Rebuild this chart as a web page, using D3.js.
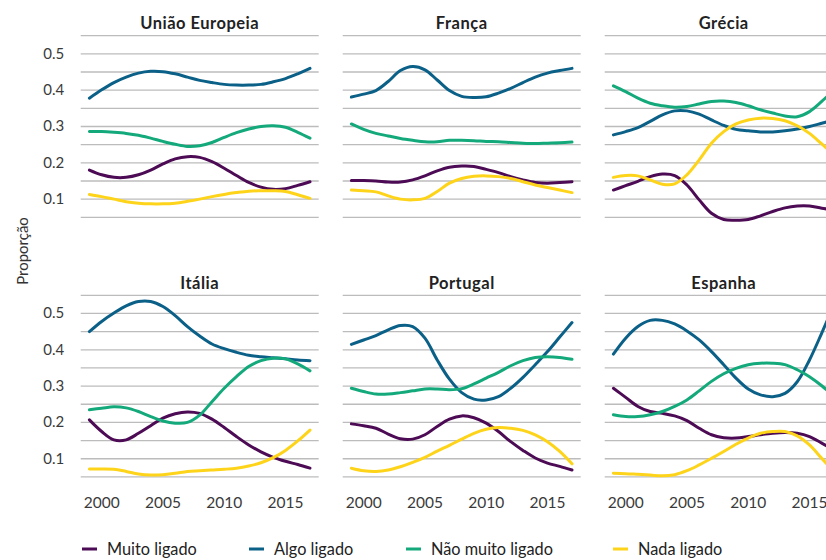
<!DOCTYPE html>
<html>
<head>
<meta charset="utf-8">
<script src="https://cdn.jsdelivr.net/npm/d3@7.9.0/dist/d3.min.js"></script>
<style>
  html, body { margin: 0; padding: 0; background: #fff; }
  svg { display: block; font-family: Lato, "Open Sans", sans-serif; }
</style>
</head>
<body>
<svg id="chart" width="826" height="560"></svg>
<script>
const years = [1999, 2000, 2001, 2002, 2003, 2004, 2005, 2006, 2007, 2008, 2009, 2010, 2011, 2012, 2013, 2014, 2015, 2016, 2017];
const countries = ['União Europeia', 'França', 'Grécia', 'Itália', 'Portugal', 'Espanha'];
const seriesNames = ['Muito ligado', 'Algo ligado', 'Não muito ligado', 'Nada ligado'];
const seriesColors = ['#4c0b54', '#0b6088', '#14a97b', '#fdd41a'];
const yTicks = [0.1, 0.2, 0.3, 0.4, 0.5];
const xTicks = [2000, 2005, 2010, 2015];

// União Europeia
const ueMuito = [.18, .167, .16, .16, .167, .18, .197, .211, .217, .215, .203, .185, .165, .146, .133, .127, .129, .138, .148];
const ueAlgo = [.378, .401, .421, .436, .447, .452, .451, .445, .436, .427, .421, .416, .414, .414, .416, .423, .432, .445, .46];
const ueNaoMuito = [.286, .286, .284, .281, .276, .268, .259, .251, .245, .247, .256, .27, .283, .293, .3, .302, .298, .284, .268];
const ueNada = [.113, .107, .1, .093, .089, .087, .087, .089, .094, .1, .107, .113, .118, .122, .123, .123, .121, .112, .102];

// França
const frMuito = [.151, .151, .15, .147, .147, .153, .164, .178, .188, .191, .19, .182, .173, .162, .153, .146, .144, .146, .148];
const frAlgo = [.381, .389, .399, .424, .454, .465, .456, .428, .399, .383, .38, .382, .392, .405, .421, .436, .447, .454, .46];
const frNaoMuito = [.307, .292, .281, .274, .267, .262, .258, .258, .262, .262, .261, .259, .258, .256, .254, .253, .254, .255, .257];
const frNada = [.125, .123, .12, .109, .1, .098, .102, .121, .144, .157, .163, .164, .162, .157, .148, .139, .132, .125, .118];

// Grécia
const grMuito = [.125, .137, .149, .162, .169, .165, .139, .098, .061, .044, .042, .044, .054, .066, .076, .081, .081, .075, .07];
const grAlgo = [.277, .286, .297, .314, .332, .343, .343, .334, .318, .303, .292, .288, .285, .285, .288, .293, .3, .309, .318];
const grNaoMuito = [.412, .396, .378, .364, .357, .353, .355, .362, .369, .37, .366, .357, .346, .337, .329, .327, .341, .369, .401];
const grNada = [.16, .165, .164, .153, .141, .142, .167, .208, .254, .286, .307, .318, .323, .322, .316, .302, .281, .252, .222];

// Itália
const itMuito = [.207, .175, .152, .152, .17, .191, .212, .224, .229, .225, .209, .186, .161, .138, .119, .104, .093, .084, .074];
const itAlgo = [.45, .478, .501, .521, .533, .533, .519, .494, .464, .438, .416, .403, .393, .385, .381, .378, .375, .372, .37];
const itNaoMuito = [.235, .239, .243, .24, .23, .216, .204, .198, .2, .22, .257, .294, .326, .354, .37, .377, .375, .361, .342];
const itNada = [.072, .072, .071, .065, .058, .055, .056, .06, .065, .067, .069, .071, .074, .08, .089, .103, .123, .149, .179];

// Portugal
const ptMuito = [.196, .191, .184, .168, .155, .154, .166, .189, .209, .218, .213, .198, .175, .147, .123, .102, .088, .079, .069];
const ptAlgo = [.415, .427, .439, .455, .467, .464, .432, .372, .319, .282, .264, .262, .271, .294, .324, .359, .395, .435, .475];
const ptNaoMuito = [.294, .285, .278, .278, .282, .287, .292, .292, .29, .293, .306, .322, .338, .356, .37, .379, .381, .379, .374];
const ptNada = [.074, .067, .065, .069, .078, .09, .104, .121, .137, .154, .17, .181, .186, .184, .178, .166, .147, .12, .086];

// Espanha
const esMuito = [.294, .269, .244, .23, .225, .218, .205, .184, .166, .158, .157, .161, .166, .17, .172, .17, .161, .143, .124];
const esAlgo = [.388, .432, .464, .481, .481, .471, .452, .427, .395, .359, .322, .292, .276, .271, .28, .312, .372, .446, .524];
const esNaoMuito = [.221, .216, .216, .221, .23, .244, .262, .287, .313, .334, .349, .359, .363, .363, .359, .345, .326, .301, .271];
const esNada = [.06, .059, .057, .055, .053, .056, .067, .083, .101, .12, .14, .157, .17, .175, .175, .163, .138, .101, .065];

const panelSeries = [
  [ueMuito, ueAlgo, ueNaoMuito, ueNada],
  [frMuito, frAlgo, frNaoMuito, frNada],
  [grMuito, grAlgo, grNaoMuito, grNada],
  [itMuito, itAlgo, itNaoMuito, itNada],
  [ptMuito, ptAlgo, ptNaoMuito, ptNada],
  [esMuito, esAlgo, esNaoMuito, esNada]
];

const svg = d3.select('#chart');

const panelW = 238;
const panelH = 181.6;
const colX = [80.7, 342.7, 604.7];
const rowY = [35.7, 295.3];

const x = d3.scaleLinear().domain([1998.29, 2017.71]).range([0, panelW]);
const y = d3.scaleLinear().domain([0.05, 0.55]).range([panelH, 0]);
const gridValues = d3.range(0.05, 0.5501, 0.05);

const line = d3.line()
  .x((d, i) => x(years[i]))
  .y((d) => y(d))
  .curve(d3.curveCatmullRom.alpha(0.5));

countries.forEach((name, p) => {
  const col = p % 3;
  const row = Math.floor(p / 3);
  const g = svg.append('g')
    .attr('transform', `translate(${colX[col]},${rowY[row]})`);

  g.selectAll('line.grid')
    .data(gridValues)
    .join('line')
    .attr('class', 'grid')
    .attr('x1', 0)
    .attr('x2', panelW)
    .attr('y1', (d) => y(d))
    .attr('y2', (d) => y(d))
    .attr('stroke', '#bcbcbc')
    .attr('stroke-width', 1.3);

  g.append('text')
    .attr('x', panelW / 2)
    .attr('y', -6.5)
    .attr('text-anchor', 'middle')
    .attr('font-size', 16.5)
    .attr('font-weight', 700)
    .attr('letter-spacing', 0.5)
    .attr('fill', '#222')
    .text(name);

  if (col === 0) {
    g.selectAll('text.ytick')
      .data(yTicks)
      .join('text')
      .attr('class', 'ytick')
      .attr('x', -16.5)
      .attr('y', (d) => y(d))
      .attr('dy', '0.33em')
      .attr('text-anchor', 'end')
      .attr('font-size', 15)
      .attr('fill', '#3a3a3a')
      .text((d) => d.toFixed(1));
  }

  if (row === 1) {
    g.selectAll('text.xtick')
      .data(xTicks)
      .join('text')
      .attr('class', 'xtick')
      .attr('x', (d) => x(d))
      .attr('y', panelH + 31)
      .attr('text-anchor', 'middle')
      .attr('font-size', 15.5)
      .attr('fill', '#3a3a3a')
      .text((d) => d);
  }

  panelSeries[p].forEach((values, s) => {
    g.append('path')
      .attr('d', line(values))
      .attr('fill', 'none')
      .attr('stroke', seriesColors[s])
      .attr('stroke-width', 3)
      .attr('stroke-linecap', 'round');
  });
});

svg.append('text')
  .attr('transform', 'translate(28,251) rotate(-90)')
  .attr('text-anchor', 'middle')
  .attr('font-size', 15)
  .attr('fill', '#333')
  .text('Proporção');

const legendX = [82, 249, 406, 613];
const legend = svg.append('g').attr('transform', 'translate(0,549)');
seriesNames.forEach((name, i) => {
  legend.append('line')
    .attr('x1', legendX[i])
    .attr('x2', legendX[i] + 15)
    .attr('y1', 0)
    .attr('y2', 0)
    .attr('stroke', seriesColors[i])
    .attr('stroke-width', 3);
  legend.append('text')
    .attr('x', legendX[i] + 25)
    .attr('y', 5.5)
    .attr('font-size', 16.3)
    .attr('fill', '#222')
    .text(name);
});
</script>
</body>
</html>
